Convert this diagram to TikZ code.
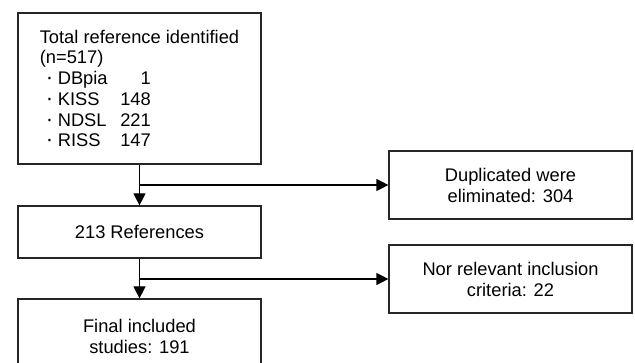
\documentclass[tikz,border=0pt]{standalone}
\usepackage{fontspec}
\setmainfont{Liberation Sans}
\usetikzlibrary{arrows.meta}
\usetikzlibrary{calc}

\tikzset{
  box/.style={draw=black!85, line width=1.2pt, minimum width=243pt, inner sep=0pt,
    align=center, font=\fontsize{18.3}{21}\selectfont},
  flow/.style={black, line width=1.2pt, ->, >={Triangle[length=12pt,width=12pt]}}
}
\newcommand{\dbline}[2]{\makebox[18pt][l]{\hspace{6pt}{\fontsize{22}{20.7}\selectfont·}}\makebox[60pt][l]{#1}\makebox[33pt][r]{#2}}

\begin{document}
\begin{tikzpicture} [x=1pt, y=-1pt]
\useasboundingbox (0,0) rectangle (635,363);
\fill[white] (0,0) rectangle (635,363);
\node[box, minimum height=151pt, align=left, font=\fontsize{18.3}{20.7}\selectfont] (total) at (139.5,88.5)
  {Total reference identified\\(n=517)\\\dbline{DBpia}{1}\\\dbline{KISS}{148}\\\dbline{NDSL}{221}\\\dbline{RISS}{147}};
\node[box, minimum height=52pt] (refs) at (139.5,232) {213 References};
\node[box, minimum height=74pt] (final) at (139.5,336) {Final included\\studies: 191};
\node[box, minimum height=68pt] (dup) at (510.5,185) {Duplicated were\\eliminated: 304};
\node[box, minimum height=68pt] (nor) at (510.5,279) {Nor relevant inclusion\\criteria: 22};
% main flow
\draw[flow] (total.south) -- (refs.north);
\draw[flow] (refs.south) -- (final.north);
% excluded
\draw[flow] (total.south |- dup.west) -- (dup.west);
\draw[flow] (refs.south |- nor.west) -- (nor.west);
\end{tikzpicture}
\end{document}
